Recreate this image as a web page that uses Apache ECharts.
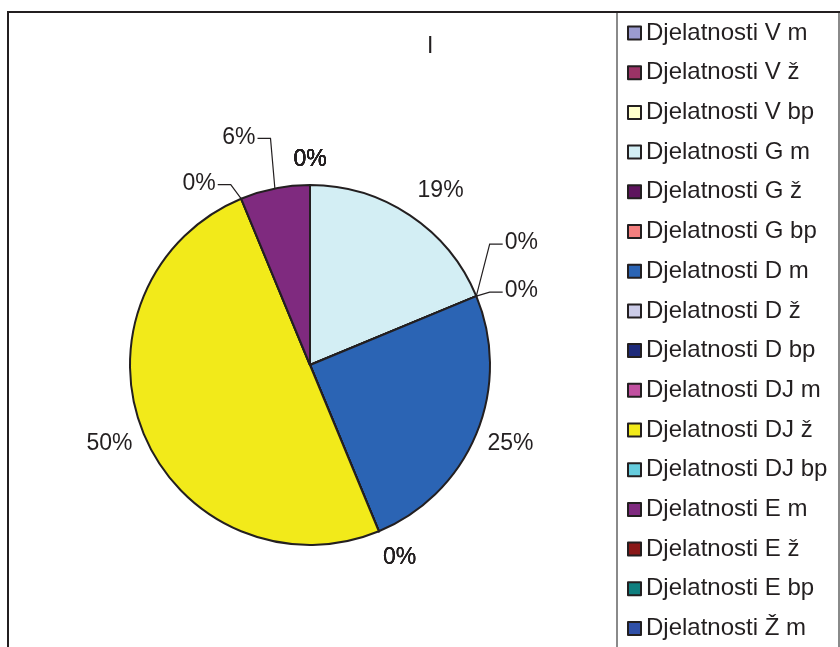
<!DOCTYPE html>
<html>
<head>
<meta charset="utf-8">
<script src="https://cdn.jsdelivr.net/npm/echarts@6/dist/echarts.min.js"></script>
<style>
  html, body { margin: 0; padding: 0; background: #ffffff; }
  #chart { width: 840px; height: 647px; }
</style>
</head>
<body>
<div id="chart"></div>
<script>
// ---- data ----
const categories = [
  'Djelatnosti V m', 'Djelatnosti V ž', 'Djelatnosti V bp',
  'Djelatnosti G m', 'Djelatnosti G ž', 'Djelatnosti G bp',
  'Djelatnosti D m', 'Djelatnosti D ž', 'Djelatnosti D bp',
  'Djelatnosti DJ m', 'Djelatnosti DJ ž', 'Djelatnosti DJ bp',
  'Djelatnosti E m', 'Djelatnosti E ž', 'Djelatnosti E bp',
  'Djelatnosti Ž m'
];
const values = [0, 0, 0, 3, 0, 0, 4, 0, 0, 0, 8, 0, 1, 0, 0, 0];
const colors = [
  '#9B9BCF', '#9B3366', '#FFFFCC',
  '#D3EEF4', '#5E145E', '#F47F7F',
  '#2B64B4', '#CCCCE8', '#1E2A7A',
  '#C150A0', '#F2EA1A', '#66CCDD',
  '#7F2A7F', '#8A1818', '#0F7F7F',
  '#3050A8'
];
const chartTitle = 'I';

// ---- label placement tweaks (styling, not data) ----
const labelTweaks = {
  'Djelatnosti G m': { dx: 10, dy: -3 },
  'Djelatnosti D ž': { dx: 9, dy: 3 },
  'Djelatnosti D bp': { dx: 9, dy: 3 },
  'Djelatnosti DJ m': { dx: 9, dy: 3 },
  'Djelatnosti G ž': { leader: true, dx: 45, dy: -53 },
  'Djelatnosti G bp': { leader: true, dx: 45, dy: -5 },
  'Djelatnosti DJ bp': { leader: true, dx: -42, dy: -15 },
  'Djelatnosti E m': { leader: true, dx: -36, dy: -51 }
};

const FONT = "'Liberation Sans', Arial, Helvetica, sans-serif";
const INK = '#231F20';

const chart = echarts.init(document.getElementById('chart'), null, { renderer: 'canvas' });

const total = values.reduce((a, b) => a + b, 0);
const pieData = categories.map((name, i) => {
  const item = { name: name, value: values[i], itemStyle: { color: colors[i] } };
  if (labelTweaks[name] && labelTweaks[name].leader) {
    item.labelLine = { show: true };
  }
  return item;
});

function layoutLabel(params) {
  const data = chart.getModel().getSeriesByIndex(0).getData();
  const lay = data.getItemLayout(params.dataIndex);
  const name = data.getName(params.dataIndex);
  const mid = (lay.startAngle + lay.endAngle) / 2;
  const c = Math.cos(mid), s = Math.sin(mid);
  const px = lay.cx + lay.r * c, py = lay.cy + lay.r * s;
  const w = params.labelRect.width, h = params.labelRect.height;
  const t = labelTweaks[name] || {};
  if (t.leader) {
    const x = px + t.dx, y = py + t.dy;
    const side = t.dx > 0 ? -1 : 1;
    const edgeX = x + side * (w / 2 + 2);
    const elbowX = edgeX + side * 13;
    return {
      x: x, y: y, align: 'center', verticalAlign: 'middle',
      labelLinePoints: [[px, py], [elbowX, y + 1], [edgeX, y + 1]]
    };
  }
  const k = 14;
  return {
    x: px + c * k + c * w / 2 + (t.dx || 0),
    y: py + s * k + s * h / 2 + (t.dy || 0),
    align: 'center', verticalAlign: 'middle'
  };
}

const option = {
  backgroundColor: '#ffffff',
  animation: false,
  title: {
    text: chartTitle,
    left: 427, top: 35, padding: 0,
    textStyle: { fontSize: 23, fontWeight: 'normal', color: INK, fontFamily: FONT }
  },
  graphic: [
    { type: 'rect', z: 0, silent: true,
      shape: { x: 617, y: 12, width: 222, height: 700 },
      style: { fill: 'none', stroke: '#8a8a8a', lineWidth: 2 } },
    { type: 'rect', z: 1, silent: true,
      shape: { x: 8, y: 12, width: 900, height: 700 },
      style: { fill: 'none', stroke: INK, lineWidth: 2 } }
  ],
  legend: {
    orient: 'vertical',
    left: 627, top: 21,
    padding: 0,
    itemWidth: 13, itemHeight: 13,
    itemGap: 15.7,
    icon: 'rect',
    selectedMode: false,
    itemStyle: { borderColor: INK, borderWidth: 2 },
    textStyle: { fontSize: 24, color: INK, fontFamily: FONT, padding: [0, 0, 0, 0] },
    data: categories
  },
  series: [{
    type: 'pie',
    center: [310, 365],
    radius: 180,
    startAngle: 90,
    clockwise: true,
    avoidLabelOverlap: false,
    minShowLabelAngle: 0,
    emphasis: { disabled: true },
    itemStyle: { borderColor: INK, borderWidth: 2 },
    label: {
      show: true,
      position: 'outside',
      fontSize: 23,
      color: INK,
      fontFamily: FONT,
      formatter: function (p) { return Math.round(p.value / total * 100) + '%'; }
    },
    labelLine: { show: false, length: 10, length2: 10, smooth: false,
      lineStyle: { color: INK, width: 1.2 } },
    labelLayout: layoutLabel,
    data: pieData
  }]
};

chart.setOption(option);
</script>
</body>
</html>
